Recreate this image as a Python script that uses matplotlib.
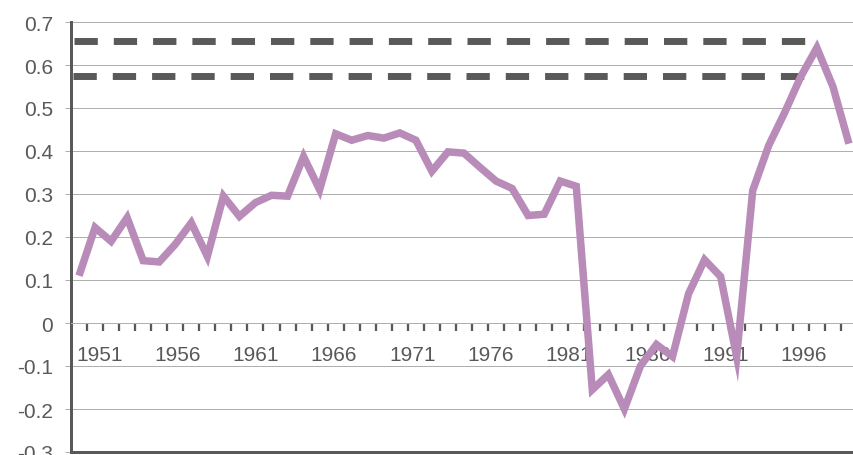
import matplotlib
matplotlib.use('Agg')
import matplotlib.pyplot as plt

plt.rcParams['font.family'] = ['Liberation Sans', 'DejaVu Sans']

# ---- data ----
years = list(range(1950, 1999))
values = [0.110, 0.222, 0.190, 0.245, 0.145, 0.142, 0.183, 0.233, 0.155, 0.295,
          0.248, 0.280, 0.297, 0.295, 0.387, 0.310, 0.440, 0.425, 0.436, 0.430,
          0.442, 0.425, 0.353, 0.398, 0.395, 0.362, 0.330, 0.313, 0.250, 0.253,
          0.330, 0.318, -0.155, -0.120, -0.200, -0.100, -0.050, -0.078, 0.068, 0.147,
          0.108, -0.078, 0.308, 0.413, 0.490, 0.573, 0.640, 0.550, 0.417]
label_years = [1951, 1956, 1961, 1966, 1971, 1976, 1981, 1986, 1991, 1996]
band_values = [0.655, 0.575]
y_ticks = [-0.3, -0.2, -0.1, 0, 0.1, 0.2, 0.3, 0.4, 0.5, 0.6, 0.7]
y_tick_labels = ['-0.3', '-0.2', '-0.1', '0', '0.1', '0.2', '0.3', '0.4', '0.5', '0.6', '0.7']

# ---- style ----
W, H = 854, 456
DARK = '#595959'
GRID = '#AFAFAF'
PURPLE = '#B98BB9'
px = 0.72  # points per pixel at dpi 100

fig = plt.figure(figsize=(W / 100, H / 100), dpi=100)
ax = fig.add_axes([71 / W, 3 / H, 783 / W, 430 / H])
step = 16.04
ax.set_xlim(-0.5, -0.5 + 783 / step)
ax.set_ylim(-0.3, 0.7)

x_idx = list(range(len(years)))

# grid
ax.set_yticks(y_ticks)
ax.set_yticklabels(y_tick_labels)
ax.yaxis.grid(True, color=GRID, linewidth=1 * px, zorder=0)
ax.set_axisbelow(True)

# spines
for s in ('top', 'right'):
    ax.spines[s].set_visible(False)
ax.spines['left'].set_color(DARK)
ax.spines['left'].set_linewidth(3 * px)
ax.spines['bottom'].set_position(('data', 0))
ax.spines['bottom'].set_color(GRID)
ax.spines['bottom'].set_linewidth(1 * px)
ax.axhline(-0.3, color=DARK, linewidth=3 * px, clip_on=False, zorder=4)

# ticks
ax.set_xticks([i + 0.5 for i in x_idx[:-1]])
ax.set_xticklabels([])
ax.tick_params(axis='x', direction='out', length=8 * px, width=2.3 * px, color=DARK)
ax.tick_params(axis='y', direction='out', length=6 * px, width=1 * px, color=GRID,
               pad=8.5, labelsize=15, labelcolor=DARK)

# x labels (category labels across plot width)
for y in label_years:
    ax.annotate(str(y), xy=((y - years[0] + 0.8) / 50, 0),
                xycoords=('axes fraction', 'data'), xytext=(0, -22),
                textcoords='offset pixels', ha='center', va='top',
                fontsize=15, color=DARK)

# dashed band lines
band_spans = [(-0.31, 45.3), (-0.39, 45.57)]
for v, (x0, x1) in zip(band_values, band_spans):
    ax.plot([x0, x1], [v, v], color=DARK, linewidth=5,
            dashes=(23.3 * px / 5, 16 * px / 5), dash_capstyle='butt', zorder=2)

# main series
ax.plot(x_idx, values, color=PURPLE, linewidth=7.5 * px,
        solid_joinstyle='miter', solid_capstyle='butt', zorder=3)

fig.savefig('out.png', dpi=100)
